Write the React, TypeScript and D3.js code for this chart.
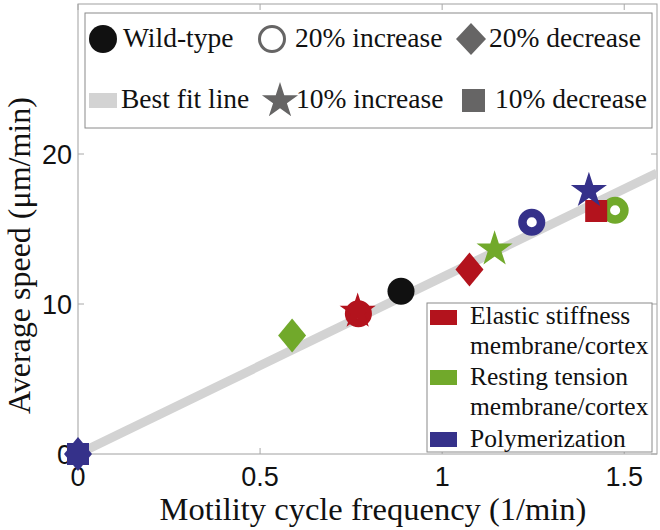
import React from "react";
import * as d3 from "d3";

// data
const xTicks = [0, 0.5, 1, 1.5];
const yTicks = [0, 10, 20];
const fitFreq = [0, 1.59];
const fitSpeed = [0, 18.73];
const wildFreq = [0.887];
const wildSpeed = [10.85];
// variant order: 20% increase, 20% decrease, 10% increase, 10% decrease
const variants = ["20% increase", "20% decrease", "10% increase", "10% decrease"];
const elasticFreq = [0.77, 1.075, 0.768, 1.423];
const elasticSpeed = [9.35, 12.3, 9.5, 16.2];
const tensionFreq = [1.475, 0.588, 1.144, null];
const tensionSpeed = [16.25, 7.9, 13.65, null];
const polymerFreq = [1.246, 0, 1.403, 0];
const polymerSpeed = [15.45, 0, 17.55, 0];
const groupNames = ["Elastic stiffness", "Resting tension", "Polymerization"];
const groupColors = ["#b3131d", "#71a92b", "#35318a"];

const SERIF = "'Liberation Serif', 'Times New Roman', serif";
const SANS = "'Liberation Sans', Arial, sans-serif";
const GREY = "#666565";

function starPath(cx: number, cy: number, R: number) {
  const r = R * 0.382;
  const pts: string[] = [];
  for (let i = 0; i < 10; i++) {
    const a = -Math.PI / 2 + (i * Math.PI) / 5;
    const rad = i % 2 === 0 ? R : r;
    pts.push(`${cx + rad * Math.cos(a)},${cy + rad * Math.sin(a)}`);
  }
  return "M" + pts.join("L") + "Z";
}

function diamondPath(cx: number, cy: number, hw: number, hh: number) {
  return `M${cx},${cy - hh}L${cx + hw},${cy}L${cx},${cy + hh}L${cx - hw},${cy}Z`;
}

function Marker({ kind, cx, cy, color }: { kind: number; cx: number; cy: number; color: string }) {
  if (kind === 0) return <circle cx={cx} cy={cy} r={9.3} fill="none" stroke={color} strokeWidth={8.5} />;
  if (kind === 1) return <path d={diamondPath(cx, cy, 14, 17)} fill={color} />;
  if (kind === 2) return <path d={starPath(cx, cy, 19)} fill={color} />;
  return <rect x={cx - 11} y={cy - 11} width={22} height={22} fill={color} />;
}

export default function App() {
  const x = d3.scaleLinear().domain([0, 1.59]).range([78, 657]);
  const y = d3.scaleLinear().domain([0, 30]).range([454, 4]);
  const [x0, x1] = x.range();
  const [y0, y1] = y.range();

  const line = d3
    .line<number>()
    .x((d) => x(d))
    .y((_, i) => y(fitSpeed[i]));

  const groups = [
    { f: elasticFreq, s: elasticSpeed },
    { f: tensionFreq, s: tensionSpeed },
    { f: polymerFreq, s: polymerSpeed },
  ];
  // draw rings, diamonds, squares, then stars
  const drawOrder = [0, 1, 3, 2];
  const marks: React.ReactNode[] = [];
  drawOrder.forEach((k) => {
    groups.forEach((g, gi) => {
      const fx = g.f[k];
      const sy = g.s[k];
      if (fx == null || sy == null) return;
      marks.push(
        <Marker key={`${gi}-${k}`} kind={k} cx={x(fx)} cy={y(sy)} color={groupColors[gi]} />
      );
    });
  });

  const tickColor = "#a8a8a8";

  return (
    <svg
      width={660}
      height={530}
      style={{ position: "absolute", left: 0, top: 0, background: "#fff" }}
    >
      <defs>
        <clipPath id="plot-clip">
          <rect x={x0} y={y1} width={x1 - x0} height={y0 - y1} />
        </clipPath>
      </defs>

      {/* frame */}
      <rect x={x0} y={y1} width={x1 - x0} height={y0 - y1} fill="none" stroke="#a0a0a0" strokeWidth={1} />
      {xTicks.map((t) => (
        <g key={`xt${t}`}>
          <line x1={x(t)} x2={x(t)} y1={y0} y2={y0 - 6} stroke={tickColor} />
          <line x1={x(t)} x2={x(t)} y1={y1} y2={y1 + 6} stroke={tickColor} />
          <text x={x(t)} y={486} textAnchor="middle" fontFamily={SANS} fontSize={27} fill="#111">
            {t}
          </text>
        </g>
      ))}
      {yTicks.map((t) => (
        <g key={`yt${t}`}>
          <line x1={x0} x2={x0 + 6} y1={y(t)} y2={y(t)} stroke={tickColor} />
          <line x1={x1} x2={x1 - 6} y1={y(t)} y2={y(t)} stroke={tickColor} />
          <text x={72} y={y(t) + 10} textAnchor="end" fontFamily={SANS} fontSize={27} fill="#111">
            {t}
          </text>
        </g>
      ))}

      {/* axis titles */}
      <text x={373} y={520} textAnchor="middle" fontFamily={SERIF} fontSize={32.5} fill="#111">
        Motility cycle frequency (1/min)
      </text>
      <text
        transform="translate(30,414) rotate(-90)"
        textAnchor="start"
        fontFamily={SERIF}
        fontSize={32}
        fill="#111"
      >
        Average speed (μm/min)
      </text>

      {/* best fit line */}
      <g clipPath="url(#plot-clip)">
        <path d={line(fitFreq) || ""} stroke="#d3d3d3" strokeWidth={9} fill="none" />
      </g>

      {/* data */}
      {wildFreq.map((f, i) => (
        <circle key={`wt${i}`} cx={x(f)} cy={y(wildSpeed[i])} r={13.5} fill="#111" />
      ))}
      {marks}

      {/* top legend */}
      <rect x={85} y={13} width={567} height={115} fill="#fff" stroke="#8a8a8a" strokeWidth={1} />
      <g fontFamily={SERIF} fontSize={27.5} fill="#111">
        <circle cx={103} cy={39} r={14} fill="#111" />
        <text x={123} y={47}>Wild-type</text>
        <circle cx={272} cy={39} r={12.5} fill="none" stroke={GREY} strokeWidth={3} />
        <text x={295} y={47}>{variants[0]}</text>
        <path d={diamondPath(471, 39, 15, 16)} fill={GREY} />
        <text x={489} y={47}>{variants[1]}</text>
        <rect x={89} y={93} width={28} height={15} fill="#d3d3d3" />
        <text x={121} y={108}>Best fit line</text>
        <path d={starPath(280, 101, 19)} fill={GREY} />
        <text x={296} y={108}>{variants[2]}</text>
        <rect x={462} y={89} width={23} height={23} fill={GREY} />
        <text x={495} y={108}>{variants[3]}</text>
      </g>

      {/* group legend */}
      <rect x={427} y={303} width={225} height={149} fill="#fff" stroke="#8a8a8a" strokeWidth={1} />
      <g fontFamily={SERIF} fontSize={25.5} fill="#111">
        <rect x={430} y={310} width={27} height={15} fill={groupColors[0]} />
        <text x={470} y={324}>{groupNames[0]}</text>
        <text x={470} y={354}>membrane/cortex</text>
        <rect x={430} y={370} width={27} height={15} fill={groupColors[1]} />
        <text x={470} y={385}>{groupNames[1]}</text>
        <text x={470} y={415}>membrane/cortex</text>
        <rect x={430} y={432} width={27} height={15} fill={groupColors[2]} />
        <text x={470} y={447}>{groupNames[2]}</text>
      </g>
    </svg>
  );
}
